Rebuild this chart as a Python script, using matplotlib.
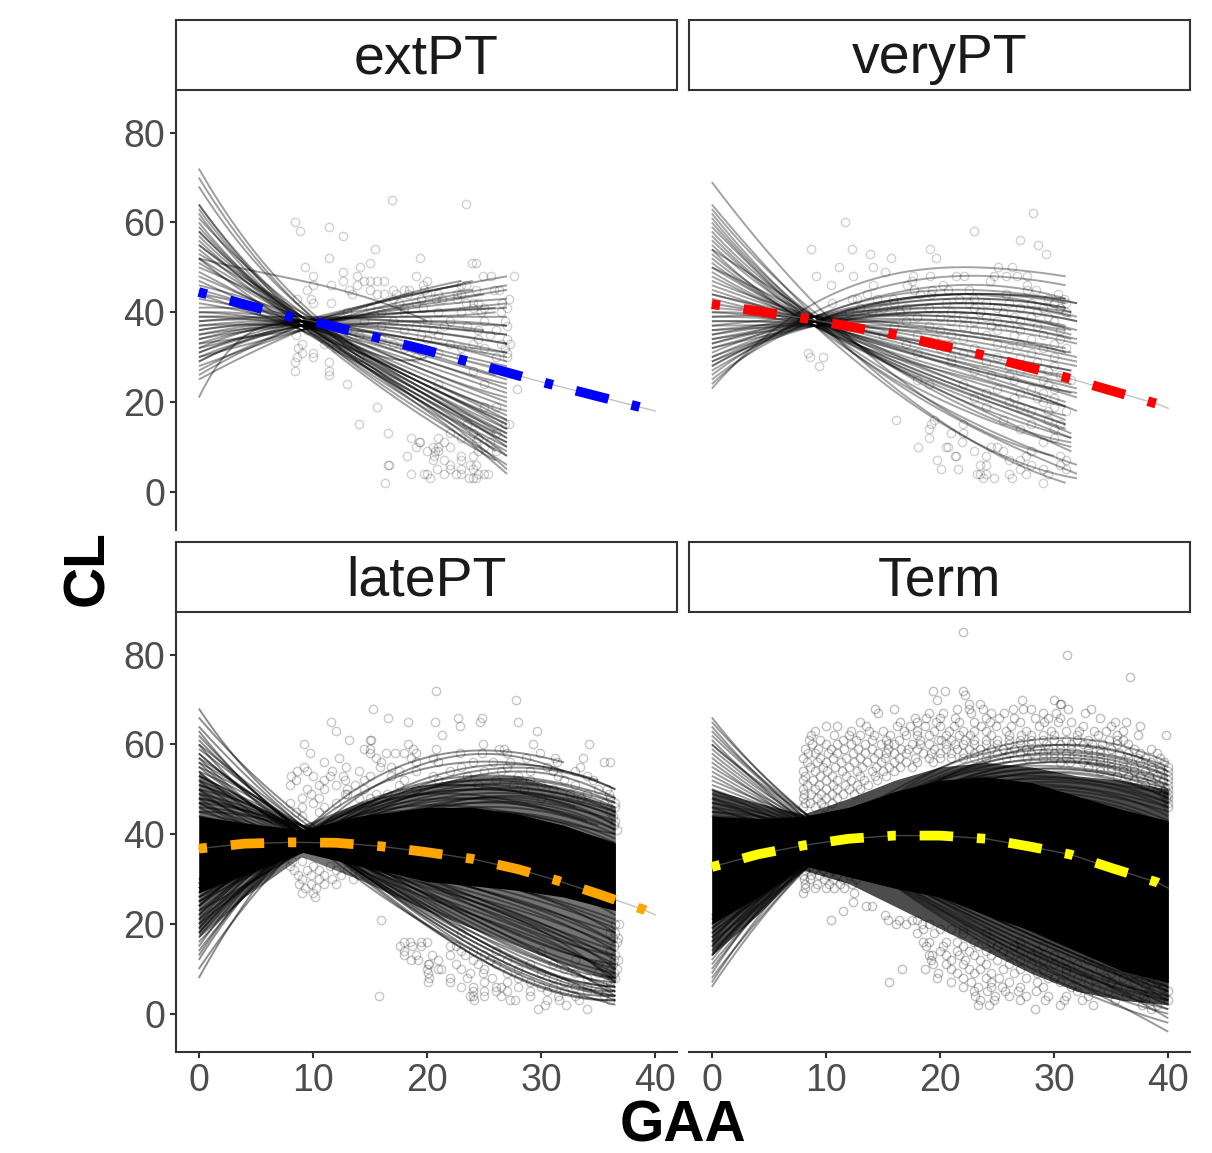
import numpy as np
import matplotlib
matplotlib.use("Agg")
import matplotlib.pyplot as plt

plt.rcParams['font.family'] = ['Liberation Sans', 'DejaVu Sans']

W, H = 1212, 1153

PANELS = ["extPT", "veryPT", "latePT", "Term"]
MEAN_COLORS = ["#0000ff", "#ff0000", "#ffa500", "#ffff00"]

# ---- mean curves
EXT_MEAN_X = [0, 8, 10, 20, 30, 40]
EXT_MEAN_Y = [44.5, 39, 38, 31.5, 24.5, 18]
VERY_MEAN_X = [0, 8, 16, 24, 31, 39, 40]
VERY_MEAN_Y = [41.8, 38.7, 35, 30.3, 25.5, 19.6, 18.6]
LATE_MEAN_X = [0, 4, 8, 12, 16, 20, 24, 28, 31.4, 35, 39, 40]
LATE_MEAN_Y = [36.8, 37.9, 38.2, 38.1, 37.3, 36, 34.5, 32.2, 29.7, 26.7, 23.2, 22]
TERM_MEAN_X = [0, 4, 8, 12, 16, 20, 24, 28, 31.4, 35, 39, 40]
TERM_MEAN_Y = [32.7, 35.5, 37.5, 39, 39.7, 39.7, 39, 37.2, 35.5, 32.5, 29.3, 28]

# ---- individual trajectories: value at x=0, near x=9, around 2/3 of the span, at the last x
EXT_START = [72, 70, 68, 64, 64, 63, 62, 61, 60, 59, 58, 58, 57, 56, 55, 55, 54, 53, 52, 52, 51, 50, 52, 49, 48, 47, 46, 45, 44, 44, 43, 42, 41, 40, 40, 39, 39, 38, 38, 37, 37, 36, 36, 35, 35, 34, 34, 33, 33, 32, 32, 31, 31, 30, 30, 29, 29, 28, 27, 26, 25, 21]
EXT_KNOT  = [42, 41, 41, 39, 38, 39, 38, 40, 38, 39, 37, 38, 39, 37, 38, 40, 37, 39, 38, 36, 38, 39, 47, 37, 38, 36, 39, 37, 38, 36, 38, 37, 39, 38, 37, 38, 37, 38, 39, 37, 38, 38, 37, 38, 37, 38, 37, 38, 36, 37, 38, 38, 37, 36, 37, 38, 37, 36, 37, 37, 36, 37]
EXT_MID   = [24, 21, 25, 20, 19, 23, 22, 24, 22, 25, 19, 21, 26, 20, 22, 28, 21, 24, 23, 22, 25, 26, 43, 24, 27, 23, 30, 25, 28, 26, 31, 29, 33, 32, 30, 34, 32, 35, 38, 34, 36, 37, 34, 38, 36, 39, 37, 40, 38, 41, 39, 42, 40, 42, 41, 43, 40, 42, 44, 43, 43, 31]
EXT_END   = [12, 5, 15, 4, 6, 10, 9, 13, 8, 14, 7, 9, 16, 8, 11, 20, 10, 13, 12, 11, 15, 18, 38, 14, 19, 13, 24, 16, 21, 17, 25, 22, 28, 26, 23, 30, 27, 31, 36, 29, 33, 35, 31, 37, 33, 39, 35, 41, 37, 43, 40, 45, 42, 46, 44, 47, 41, 45, 48, 46, 47, 30]
EXT_XEND  = [27, 27, 27, 27, 27, 27, 26, 27, 27, 27, 26, 27, 27, 27, 27, 27, 27, 26, 27, 27, 27, 27, 20, 27, 27, 27, 27, 27, 27, 27, 27, 27, 27, 26, 27, 27, 27, 27, 25, 27, 27, 27, 27, 27, 27, 27, 27, 27, 27, 27, 26, 27, 27, 27, 25, 24, 26, 24, 27, 23, 23, 20]

VERY_START = [69, 64, 63, 62, 61, 60, 59, 58, 57, 56, 55, 54, 54, 53, 52, 51, 50, 50, 49, 48, 47, 46, 45, 44, 44, 43, 42, 41, 40, 40, 39, 39, 38, 38, 37, 37, 36, 36, 35, 35, 34, 34, 33, 33, 32, 32, 31, 30, 30, 29, 29, 28, 28, 27, 26, 25, 24, 23]
VERY_KNOT  = [42, 39, 40, 38, 39, 38, 37, 39, 38, 37, 38, 39, 37, 38, 37, 38, 39, 37, 38, 37, 39, 38, 37, 38, 39, 37, 38, 39, 38, 37, 38, 39, 37, 38, 39, 37, 38, 37, 38, 39, 38, 37, 38, 39, 37, 38, 39, 38, 37, 38, 37, 38, 39, 38, 39, 38, 40, 42]
VERY_MID   = [18, 14, 21, 16, 23, 19, 13, 25, 22, 17, 24, 20, 26, 27, 23, 28, 25, 21, 29, 24, 31, 28, 26, 30, 33, 28, 32, 35, 31, 29, 34, 36, 32, 37, 39, 35, 38, 36, 39, 41, 40, 38, 41, 43, 40, 42, 44, 42, 40, 43, 42, 44, 46, 44, 45, 44, 48, 50]
VERY_END   = [8, 2, 12, 4, 14, 10, 3, 16, 12, 6, 15, 11, 18, 19, 13, 21, 17, 9, 23, 15, 25, 22, 19, 24, 28, 20, 27, 30, 26, 22, 29, 32, 27, 33, 36, 31, 34, 31, 35, 38, 37, 34, 38, 41, 36, 39, 42, 40, 36, 41, 39, 42, 43, 40, 42, 43, 46, 48]
VERY_XEND  = [30, 31, 31.5, 32, 31, 31.5, 32, 31, 31.5, 32, 31, 31.5, 32, 31, 31.5, 32, 31, 31.5, 32, 31, 31.5, 32, 31, 31.5, 32, 31, 31.5, 32, 31, 31.5, 32, 31, 31.5, 32, 31, 31.5, 32, 31, 31.5, 32, 31, 31.5, 32, 31, 31.5, 32, 31, 31.5, 32, 31, 31.5, 32, 31, 31.5, 32, 31, 31, 31]

LATE_START = [68, 66, 64, 63, 62, 61, 60, 60, 59, 58, 58, 57, 57, 56, 56, 55, 55, 54, 54, 53, 53, 52, 52, 51, 51, 50, 50, 50, 49, 49, 48, 48, 48, 47, 47, 47, 46, 46, 45, 45, 44, 44, 30, 30, 29, 29, 29, 28, 28, 28, 27, 27, 27, 26, 26, 26, 25, 25, 25, 24, 24, 24, 23, 23, 22, 22, 21, 21, 20, 20, 19, 19, 18, 18, 17, 16, 15, 14, 13, 12, 10, 8]
LATE_KNOT  = [43, 44, 42, 41, 40, 41, 42, 40, 41, 40, 42, 41, 39, 41, 40, 42, 40, 41, 39, 40, 42, 41, 39, 40, 42, 41, 40, 38, 41, 39, 40, 42, 38, 41, 39, 37, 40, 38, 41, 39, 40, 38, 36, 38, 37, 39, 36, 38, 37, 40, 36, 38, 39, 37, 36, 38, 37, 39, 36, 38, 40, 37, 38, 36, 39, 37, 40, 36, 38, 37, 39, 38, 37, 39, 38, 37, 39, 38, 40, 39, 38, 40]
LATE_MID   = [25, 21, 17, 23, 14, 19, 16, 25, 13, 18, 26, 15, 22, 13, 27, 17, 24, 14, 28, 16, 25, 20, 30, 15, 26, 18, 28, 32, 21, 29, 17, 31, 33, 22, 30, 26, 19, 33, 24, 28, 35, 22, 48, 45, 42, 50, 38, 44, 48, 41, 47, 43, 51, 39, 45, 49, 41, 52, 46, 37, 50, 43, 48, 53, 45, 40, 51, 47, 42, 54, 46, 50, 44, 52, 48, 55, 49, 53, 56, 51, 57, 58]
LATE_END   = [7, 4, 3, 8, 2, 5, 4, 10, 3, 6, 12, 4, 9, 3, 14, 5, 11, 4, 16, 6, 13, 8, 18, 5, 14, 7, 16, 22, 9, 19, 6, 20, 24, 11, 21, 15, 8, 25, 13, 18, 27, 10, 42, 38, 34, 45, 29, 37, 42, 32, 41, 35, 46, 30, 39, 44, 33, 47, 40, 27, 45, 36, 43, 48, 38, 31, 46, 41, 34, 50, 40, 44, 37, 47, 42, 50, 43, 48, 52, 46, 54, 56]
LATE_XEND  = [36.5, 36.5, 36.5, 36.5, 36.5, 36.5, 36.5, 36.5, 36.5, 36.5, 36.5, 36.5, 36.5, 36.5, 36.5, 36.5, 36.5, 36.5, 36.5, 36.5, 36.5, 36.5, 36.5, 36.5, 36.5, 36.5, 36.5, 36.5, 36.5, 36.5, 36.5, 36.5, 36.5, 36.5, 36.5, 36.5, 36.5, 36.5, 36.5, 36.5, 36.5, 36.5, 36.5, 36.5, 36.5, 36.5, 36.5, 36.5, 36.5, 36.5, 36.5, 36.5, 36.5, 36.5, 36.5, 36.5, 36.5, 36.5, 36.5, 36.5, 36.5, 36.5, 36.5, 36.5, 36.5, 36.5, 36.5, 36.5, 36.5, 36.5, 36.5, 36.5, 36.5, 36.5, 35, 36.5, 34, 36.5, 35, 33, 32, 32]

TERM_START = [66, 65, 64, 63, 62, 61, 60, 60, 59, 58, 57, 56, 55, 54, 53, 52, 51, 50, 50, 49, 48, 48, 47, 47, 46, 46, 45, 45, 44, 44, 22, 22, 21, 21, 20, 20, 19, 19, 18, 18, 17, 17, 16, 16, 15, 15, 14, 13, 13, 12, 11, 10, 9, 8, 7, 6]
TERM_KNOT  = [44, 44, 43, 44, 43, 42, 44, 43, 42, 43, 42, 41, 43, 42, 41, 43, 42, 41, 40, 42, 41, 39, 42, 40, 41, 39, 40, 42, 41, 39, 35, 34, 36, 33, 35, 34, 33, 36, 34, 33, 35, 34, 36, 33, 35, 34, 33, 36, 34, 35, 33, 34, 35, 33, 34, 33]
TERM_MID   = [21, 15, 17, 20, 13, 16, 22, 18, 14, 23, 19, 15, 24, 20, 16, 25, 21, 17, 19, 26, 22, 18, 27, 20, 23, 25, 21, 28, 24, 26, 53, 50, 54, 48, 55, 51, 47, 56, 52, 49, 57, 53, 48, 58, 54, 50, 55, 59, 51, 56, 52, 57, 53, 60, 55, 58]
TERM_END   = [5, -4, -1, 3, -2, 1, 6, 2, 0, 7, 4, 1, 8, 5, 3, 9, 6, 4, 5, 10, 7, 3, 11, 6, 8, 10, 7, 12, 9, 11, 48, 44, 49, 42, 50, 46, 41, 52, 47, 43, 53, 48, 42, 54, 50, 45, 51, 55, 46, 52, 47, 53, 49, 56, 51, 54]

# ---- solid dark core and the looser band around it, in the two crowded panels
LATE_CORE_X  = [0, 4, 9, 14, 20, 24, 28, 32, 36.5]
LATE_CORE_LO = [27, 31, 36, 33, 29.5, 28.5, 27.5, 26, 23]
LATE_CORE_HI = [44, 42.5, 41, 44, 46, 46, 44.5, 42, 38]
LATE_BAND_LO = [17, 26, 35, 30, 23, 19, 15, 11, 7]
LATE_BAND_HI = [54, 47, 42, 47, 51, 53, 53, 50, 46]
TERM_CORE_X  = [0, 4, 8, 12, 16, 20, 24, 28, 32, 36, 40]
TERM_CORE_LO = [20, 26, 33, 30.5, 28, 26, 22, 18.5, 14, 9.5, 7]
TERM_CORE_HI = [44, 43.5, 44, 46, 49.5, 52, 52.8, 51.5, 48.5, 45.5, 43]
TERM_BAND_LO = [13, 22, 32, 29, 24, 19, 14, 9, 5, 3, 2]
TERM_BAND_HI = [50, 47, 44.5, 48, 52, 55, 56, 55, 53, 52, 50]

# ---- observed points: y value -> x values
EXT_POINTS = {
 65: [16.9], 64: [23.4], 60: [8.4], 59: [11.4], 58: [8.9], 57: [12.6], 54: [15.4], 52: [11.4, 19.4],
 51: [15, 23.9, 24.3], 50: [9.3, 14.1], 49: [12.6], 48: [10, 13.9, 19, 24.9, 25.6, 27.6],
 47: [12.6, 14.5, 15, 15.6, 16.2, 20], 46: [10, 11.6, 13.9, 19.6, 23, 23.4],
 45: [9.5, 13.2, 15, 17, 18, 18.4, 19.7, 24.3, 25.9, 26.3], 44: [13.4, 15.6, 16.2, 17.3, 18.3, 20, 21, 23, 22.6],
 43: [8.6, 9.8, 17, 19.5, 20.8, 21.3, 22.6, 27.2], 42: [10, 11.6, 17.5, 19, 23.4, 24, 24.5, 26.6],
 41: [15, 18, 19.6, 24, 25, 27], 40: [13, 16, 18, 21, 23, 26.5, 24.7], 38: [10.6, 14.5, 17, 20, 22, 25, 26.8],
 37: [12, 16, 19, 21.5, 23.5, 27], 36: [9.5, 13, 18, 20.5, 24.5, 26], 35: [8.5, 14, 19.5, 21, 25.5],
 34: [27, 24.5, 16, 20], 33: [9, 11, 13, 17, 22, 24, 26.5, 27.3], 32: [8.7, 12, 18, 23, 25, 26.8],
 31: [9, 10, 21, 27], 30: [8.6, 10, 14, 19, 23, 26, 27], 29: [8.4, 11.4], 27: [8.4, 11.4, 24], 26: [11.4],
 24: [13, 25, 21], 23: [27.9], 19: [15.6, 25, 26], 15: [14, 23.5, 26.8, 27.2], 13: [16.6, 22, 24, 26],
 12: [18.6, 21, 23, 24.5], 11: [19.3, 19.4, 21.5, 24.3, 25.5], 10: [19, 20.5, 21, 22, 25],
 9: [20, 20.7, 21, 24.5, 26], 8: [18.2, 20.6, 23, 24], 7: [20.5, 21.5, 23], 6: [16.6, 16.7, 22, 23.8, 24.3],
 5: [20.9, 22, 23, 24], 4: [18.6, 19.7, 20, 21.5, 22.5, 23, 24.5, 25, 25.3], 3: [20.3, 23.7, 24, 24.3], 2: [16.3],
}
VERY_POINTS = {
 62: [28.1], 60: [11.7], 58: [23], 56: [27], 55: [28.6], 54: [8.7, 12.3, 19.1], 53: [13.9, 29.3], 52: [15.7, 19.6],
 50: [11.1, 14.1, 25.1, 26.3], 49: [15.2], 48: [9.1, 12.4, 17.6, 19.1, 21.4, 22.1, 24.7, 25.8, 26.7, 27.6],
 47: [24.4, 17.5], 46: [10.4, 14.1, 17.1, 20.3, 27.6], 45: [17.7, 19.3, 20.7, 22.5, 27.6, 28.4],
 44: [13.6, 18.2, 19.2, 25.8, 30.3], 43: [12.3, 14.5, 15.9, 21.7, 23, 29.5, 30.9, 12.7],
 42: [10.5, 16, 20.5, 22.5, 24, 26, 28, 30, 31], 41: [13, 15, 17, 19, 23, 25, 27, 29, 30.5],
 40: [12, 14, 16.5, 21, 23.5, 25.5, 28.5, 31], 39: [18, 20, 22, 24, 26.5, 28, 29.5],
 38: [17, 21, 23, 25, 27, 30], 37: [16, 19, 22, 24.5, 26, 28.5], 36: [20, 23, 25, 27, 30.5],
 35: [15, 18, 21, 24, 26.5, 29], 34: [19.5, 22, 28, 30.5], 33: [17, 21, 25, 27, 30], 32: [20, 23, 26, 29, 31],
 31: [8.4, 18, 22, 28], 30: [8.6, 9.7, 21, 25, 27, 30], 29: [21, 24, 28.5], 28: [9.4, 26, 30], 27: [23, 27, 29.5],
 26: [24.5, 26, 30.5], 25: [18, 26.5, 29, 31.5], 24: [19, 22, 29.5], 23: [25, 28, 30],
 22: [24, 27, 29], 21: [23, 26.5, 28.5, 30], 20: [26, 29], 19: [24, 27, 30], 18: [28, 29.5, 31],
 16: [16.1, 19.5, 25.5, 29.5], 15: [19.2, 22, 28, 30.5], 14: [19, 27, 30], 13: [21, 22], 12: [19, 30],
 11: [21.9, 29], 10: [18.1, 20.5, 20.7, 24.5, 25], 9: [23, 25.5, 28], 8: [21.3, 21.4, 24, 27.5, 30.5], 7: [19.7, 26, 27, 31],
 6: [23.5, 24, 28, 30.5], 5: [20.1, 21.6, 27, 29, 31], 4: [23.2, 23.5, 24, 26, 27.5, 29.5],
 3: [23.8, 24.7, 26.3], 2: [29],
}
LATE_POINTS = {
 72: [20.8], 70: [27.8], 68: [15.3], 66: [16.6, 22.7, 24.8], 65: [11.6, 18.3, 20.7, 24.6, 28], 64: [22.9],
 63: [12, 29.6], 62: [21.3], 61: [13.2, 15, 15.1], 60: [9.2, 18.3, 24.9, 29.3, 34.2], 59: [14.5, 15, 18.8, 20.8, 26.3, 26.7],
 58: [9.7, 15, 16.4, 17.2, 18, 19, 22.9, 24.8, 27, 29.9], 57: [12.3, 15.5, 18.6, 20.5, 28.7, 31.2, 33.7],
 56: [11, 16, 19, 21, 24, 25.8, 27.3, 31.4, 35.5, 36],
 55: [9.2, 12.9, 15.9, 16.8, 23, 27, 30.5, 33.4], 54: [8.6, 9.5, 11.7, 14, 17.5, 19, 22, 25, 26.5, 29, 31, 33],
 53: [8.1, 10, 11.5, 12.6, 15, 16.8, 20.5, 23.5, 28, 31.5, 34], 52: [8.5, 11, 12.8, 14.5, 18, 21, 26, 29, 32, 34.5],
 51: [8, 10.5, 12, 13.7, 17.5, 24.5, 27.5, 30, 33], 50: [9.5, 11, 13, 14.5, 19, 28.5, 31, 35, 35.8],
 49: [9.8, 12.8, 13, 15.5, 16.5, 32.5, 34, 35.9], 48: [9, 10.5, 14, 15, 30, 33.5, 36],
 47: [8, 10, 12, 35.5, 36.5], 46: [9, 11, 36.5], 45: [8.5, 10.5, 36], 44: [9, 36.3], 43: [36.5],
 42: [36.4], 41: [36.6], 34: [8.2, 9], 33: [8, 10, 11.5], 32: [8.3, 9.5, 10.5, 12, 13],
 31: [8.7, 9.8, 11, 12.5, 14], 30: [9, 10.5, 11.7, 13.5], 29: [8.8, 9.8, 11, 12], 28: [9.3, 10.3], 27: [9, 10],
 26: [10.2], 21: [16], 20: [36.5, 36.8], 18: [23, 36, 36.5], 17: [36.3, 36.7], 16: [18, 18.5, 19.5, 20, 36.6],
 15: [17.6, 18.7, 19.5, 22, 22.5, 36.4], 14: [18, 23, 24, 26, 30, 36], 13: [18, 19, 20.4, 22, 23.3, 25, 36.5],
 12: [18.6, 19.2, 21, 24, 25.5, 27, 33, 36.4, 36.7], 11: [20.1, 20.2, 22.5, 24.5, 26, 29, 31, 35, 36.3],
 10: [20, 21, 21.2, 23, 25, 28, 32, 36, 36.6], 9: [20.1, 23.8, 24.9, 27, 30, 33, 35, 36.4], 8: [20.2, 22, 23.5, 25.7, 28, 31, 34, 36.2, 36.5],
 7: [20.1, 22, 25, 27, 29, 32, 35.8, 36], 6: [23, 24, 26, 26.5, 28, 30, 31, 33, 34, 36],
 5: [24, 25, 26, 27, 29, 30.5, 32, 34, 35], 4: [15.8, 23.8, 24, 25, 26.5, 29, 31.5, 33, 35.5],
 3: [24.1, 27.3, 27.7, 30.5, 31.6, 33.3, 36], 2: [30.3, 32.2], 1: [29.7, 34],
}
TERM_POINTS = {
 85: [22], 80: [31.1], 75: [36.6], 72: [19.4, 20.4, 22], 71: [22.2], 70: [19.7, 27.2, 30], 69: [22.5, 30.6, 23.5, 30.5],
 68: [14.3, 16, 21.5, 22.5, 23.8, 26.4, 27.3, 28, 31.2, 33.2], 67: [14.6, 19, 20.3, 22.7, 24.5, 25.6, 29, 30.2, 32.7],
 66: [17.8, 18.8, 20, 21.3, 24, 25.2, 26.5, 28.3, 29.5, 30.5, 34],
 65: [13, 16.5, 18, 19.6, 21.7, 23, 24.4, 27, 29.1, 30.3, 31.5, 35.3, 36.3],
 64: [10, 11, 13.5, 16.2, 17.4, 18.7, 20, 21.2, 23.6, 24.9, 26.2, 28.7, 32.5, 35, 37.5],
 63: [9, 12.2, 13.8, 15, 16.8, 18, 19.5, 22, 24, 25.8, 27.5, 31, 33.5, 34.5, 36, 20.8, 23, 29.7, 32.2],
 62: [8.7, 10.7, 13, 14.2, 15.6, 17, 19, 20.5, 22.6, 26, 28, 30, 32, 33.8, 35.5, 37.3, 39.8, 12, 18, 21.7, 24.5, 27.1, 29],
 61: [8.5, 9.5, 11.5, 12.6, 14, 15.3, 16.4, 18.2, 19.8, 21, 23, 25, 27, 29, 31, 33, 34.8, 36, 20.1, 22.2, 24, 26, 28, 30, 32, 35.5],
 60: [8.8, 10, 11, 12.2, 13.4, 14.8, 16, 17.5, 19, 20.5, 22, 24, 26, 28, 30.5, 32.5, 34.2, 36.5, 15.4, 18.2, 21.3, 23, 25, 27, 29.3, 31.5, 33.3, 35.5],
 59: [8.2, 9.3, 10.4, 11.6, 12.8, 14, 15.4, 16.6, 18, 19.5, 21.5, 23.5, 25.5, 27.5, 29.5, 31.5, 33, 35, 37, 38.5, 17.2, 20.5, 22.5, 24.5, 26.5, 28.5, 30.5, 34],
 58: [8.4, 9, 10.2, 11, 12.4, 13.4, 14.6, 16, 17, 18.5, 20, 22, 24, 26, 28, 30, 32, 34, 35.7, 37.5, 39, 15.3, 19.2, 21, 23, 25, 27, 29, 31, 33, 36.5],
 57: [8, 9.5, 10.6, 11.8, 13, 14.2, 15.2, 16.4, 17.8, 21, 23, 29, 31, 33, 35, 36.5, 38, 19, 20, 22, 24, 25.8, 27.6, 30, 32, 34, 37.3, 39.3],
 56: [8.3, 9.2, 10, 11.3, 12.5, 13.6, 14.8, 16, 30.5, 32.5, 34, 36, 37.5, 39.6, 17, 18, 19.4, 31.4, 33.3, 35, 38.5],
 55: [8.6, 9.7, 10.8, 12, 13.2, 14.4, 15.5, 33, 35, 37, 38.5, 40, 16.5, 17.5, 34, 36, 39.3],
 54: [8, 9, 10.1, 11.4, 12.7, 14, 34, 36, 38, 39.3, 15, 16, 35, 37, 40],
 53: [8.2, 9.5, 10.5, 11.8, 13, 35.5, 37.5, 39, 40, 14.3, 15.3, 36.5, 38.3],
 52: [8, 8.9, 10, 11, 12.2, 37, 38.5, 39.5, 40, 13.3, 14.5], 51: [8.3, 9.4, 10.6, 38, 39.2, 40, 11.7, 12.7, 13.7], 50: [8, 9, 10, 39, 39.7, 40, 11, 12, 13],
 49: [8.1, 8.7, 9.6, 39.5, 40, 10.5, 11.5, 12.5], 48: [8, 9.2, 40, 10, 11, 39.8], 47: [8.2, 8.6, 40, 9.6, 10.5], 46: [8, 40, 9, 9.8],
 33: [8, 8.6, 9.5, 10.3, 11.2, 12], 32: [8.2, 8.9, 9.7, 10.6, 11.5, 12.4, 13], 31: [8, 8.7, 9.4, 10.2, 11, 12, 13.2],
 30: [8.1, 8.6, 9.8, 10.6, 11.5, 12.6], 29: [8.2, 9.2, 10.3, 11.2, 12.3], 28: [8.2, 9, 10, 10.7, 11.6], 27: [8, 12.5],
 25: [12.4], 24: [13.5, 14], 23: [11.5], 22: [15.2], 21: [10.4, 15.4, 16.4, 17.5, 18], 20: [16.1, 17, 18.4, 19],
 19: [18.5, 20, 21, 22], 18: [18, 19.5, 22, 24], 16: [18.5, 19, 20.5, 21.5, 23, 24.5, 27],
 15: [18.8, 20.3, 22, 23.3, 25, 26.5, 29], 14: [20, 21.5, 22.5, 24, 25.5, 27, 28.5],
 13: [19, 19.3, 20.5, 21.7, 23, 24.5, 26, 28, 30], 12: [19.2, 21, 22.2, 23.5, 25, 27, 29, 31, 33],
 11: [19.4, 20.5, 22, 24, 26, 28, 30, 32], 10: [16.7, 18.7, 21, 22.5, 23.5, 25.5, 27, 29, 31, 34],
 9: [19.8, 21.5, 23, 24.5, 26.5, 28.5, 31, 33, 35, 37], 8: [19.7, 22, 24, 25.2, 27.5, 29.5, 30, 32, 34.5, 36, 38],
 7: [15.5, 21, 22.7, 24.5, 26, 28.5, 30.5, 33, 35, 37, 39], 6: [22, 23.3, 24.5, 25.4, 27, 29, 31.5, 33.7, 35.5, 38, 39.5],
 5: [23, 24.1, 25.7, 26.8, 28.4, 32, 34.7, 36.6, 38.3, 40], 4: [23.1, 24.8, 26, 27.5, 29.5, 31, 33, 36.3, 37.8, 39.6],
 3: [23.5, 24.7, 27, 29.2, 30.9, 32.4, 35.3, 38, 40], 2: [23.3, 24.3, 30.5, 33.4, 37.7, 39], 1: [28.3, 38.5],
}

XTICKS = [0, 10, 20, 30, 40]
YTICKS = [0, 20, 40, 60, 80]


def px_axes(fig, l, t, r, b):
    return fig.add_axes([l / W, 1 - b / H, (r - l) / W, (b - t) / H])


def draw_lines(ax, start, knot, mid, end, xend, xknot, alpha):
    for i in range(len(start)):
        xe = xend[i] if isinstance(xend, list) else xend
        xm = xknot + (xe - xknot) * 0.55
        coef = np.polyfit([0, xknot, xm, xe], [start[i], knot[i], mid[i], end[i]], 3)
        xs = np.linspace(0, xe, 60)
        ax.plot(xs, np.polyval(coef, xs), color="black", lw=1.4, alpha=alpha, solid_capstyle="butt", zorder=2)


def draw_points(ax, points, alpha):
    xs, ys = [], []
    for y, vals in points.items():
        xs += vals
        ys += [y] * len(vals)
    ax.plot(xs, ys, ls="none", marker="o", ms=6.0, mfc="none", mec="black", mew=1.0, alpha=alpha, zorder=3)


def draw_mean(ax, x, y, color):
    ax.plot(x, y, color="#888888", lw=1.0, alpha=0.5, zorder=5)
    ax.plot(x, y, color=color, lw=7, ls=(0, (0.85, 2.45, 3.45, 2.45)), dash_capstyle="butt", zorder=6)


fig = plt.figure(figsize=(W / 100, H / 100), dpi=100, facecolor="white")

LAYOUT = [(176, 677, 90, 530, 20), (689, 1190, 90, 530, 20), (176, 677, 612, 1052, 542), (689, 1190, 612, 1052, 542)]
axes = []
for i, (l, r, t, b, st) in enumerate(LAYOUT):
    ax = px_axes(fig, l, t, r, b)
    ax.set_xlim(-2, 41.9)
    ax.set_ylim(-8.5, 89.5)
    for s in ["top", "right"]:
        ax.spines[s].set_visible(False)
    ax.spines["left"].set_visible(i % 2 == 0)
    ax.spines["bottom"].set_visible(i >= 2)
    for s in ["left", "bottom"]:
        ax.spines[s].set_linewidth(1.5)
        ax.spines[s].set_color("#333333")
    ax.set_xticks(XTICKS if i >= 2 else [])
    ax.set_yticks(YTICKS if i % 2 == 0 else [])
    ax.tick_params(axis="both", length=4, width=1.5, color="#333333", labelcolor="#4d4d4d", labelsize=27)
    ax.tick_params(axis="x", pad=4)
    ax.tick_params(axis="y", pad=4)
    axes.append(ax)
    strip = px_axes(fig, l, st, r, st + 70)
    strip.set_xticks([]); strip.set_yticks([])
    for s in strip.spines.values():
        s.set_linewidth(1.5); s.set_color("#333333")
    strip.text(0.5, 0.44, PANELS[i], transform=strip.transAxes, ha="center", va="center", fontsize=40, color="#1a1a1a")

draw_lines(axes[0], EXT_START, EXT_KNOT, EXT_MID, EXT_END, EXT_XEND, 9, 0.38)
draw_points(axes[0], EXT_POINTS, 0.18)
draw_mean(axes[0], EXT_MEAN_X, EXT_MEAN_Y, MEAN_COLORS[0])

draw_lines(axes[1], VERY_START, VERY_KNOT, VERY_MID, VERY_END, VERY_XEND, 9, 0.36)
draw_points(axes[1], VERY_POINTS, 0.18)
draw_mean(axes[1], VERY_MEAN_X, VERY_MEAN_Y, MEAN_COLORS[1])

axes[2].fill_between(LATE_CORE_X, LATE_BAND_LO, LATE_BAND_HI, color="black", alpha=0.55, lw=0, zorder=2)
axes[2].fill_between(LATE_CORE_X, LATE_CORE_LO, LATE_CORE_HI, color="black", lw=0, zorder=2)
draw_lines(axes[2], LATE_START, LATE_KNOT, LATE_MID, LATE_END, LATE_XEND, 9, 0.45)
draw_points(axes[2], LATE_POINTS, 0.22)
draw_mean(axes[2], LATE_MEAN_X, LATE_MEAN_Y, MEAN_COLORS[2])

axes[3].fill_between(TERM_CORE_X, TERM_BAND_LO, TERM_BAND_HI, color="black", alpha=0.7, lw=0, zorder=2)
axes[3].fill_between(TERM_CORE_X, TERM_CORE_LO, TERM_CORE_HI, color="black", lw=0, zorder=2)
draw_lines(axes[3], TERM_START, TERM_KNOT, TERM_MID, TERM_END, 40, 8.5, 0.4)
draw_points(axes[3], TERM_POINTS, 0.25)
draw_mean(axes[3], TERM_MEAN_X, TERM_MEAN_Y, MEAN_COLORS[3])

fig.text(683 / W, 1 - 1127 / H, "GAA", ha="center", va="center", fontsize=41, fontweight="bold", color="black")
fig.text(88 / W, 1 - 568 / H, "CL", ha="center", va="center", rotation=90, fontsize=41, fontweight="bold", color="black")

fig.savefig("out.png", dpi=100)
